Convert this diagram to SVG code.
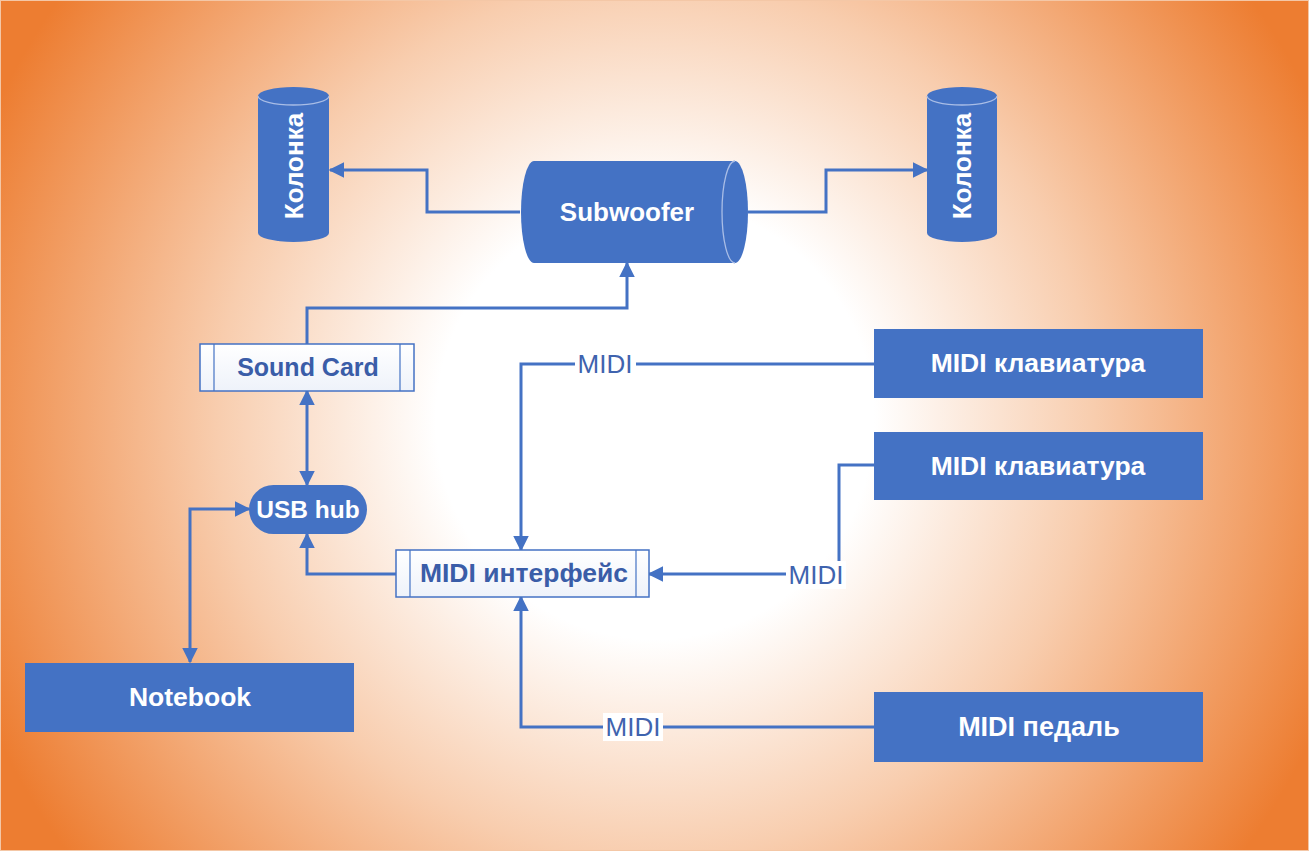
<svg xmlns="http://www.w3.org/2000/svg" width="1309" height="851" viewBox="0 0 1309 851">
  <defs>
    <radialGradient id="bg" gradientUnits="userSpaceOnUse" cx="655" cy="420" r="730">
      <stop offset="0" stop-color="#FFFFFF"/>
      <stop offset="0.3" stop-color="#FFFFFF"/>
      <stop offset="0.6" stop-color="#F8CDAE"/>
      <stop offset="1" stop-color="#ED7D31"/>
    </radialGradient>
    <linearGradient id="lightfill" x1="0" y1="0" x2="0" y2="1">
      <stop offset="0" stop-color="#FFFFFF"/>
      <stop offset="1" stop-color="#EEF2FA"/>
    </linearGradient>
    <marker id="arr" viewBox="0 0 10 10" refX="9" refY="5" markerWidth="5.2" markerHeight="5.2" orient="auto-start-reverse">
      <path d="M0,0 L10,5 L0,10 z" fill="#4472C4"/>
    </marker>
    <style>
      .blue { fill: #4472C4; }
      .wtxt { fill: #FFFFFF; font-family: "Liberation Sans", Arial, sans-serif; font-weight: bold; text-anchor: middle; dominant-baseline: central; }
      .btxt { fill: #3A5DA8; font-family: "Liberation Sans", Arial, sans-serif; font-weight: bold; text-anchor: middle; dominant-baseline: central; }
      .lbl { fill: #3F63AE; font-family: "Liberation Sans", Arial, sans-serif; font-size: 26px; text-anchor: middle; dominant-baseline: central; }
      .pp { fill: url(#lightfill); stroke: #4472C4; stroke-width: 1.5; }
      .ppline { stroke: #4472C4; stroke-width: 1.2; fill: none; }
      .rim { fill: none; stroke: #A9BDE6; stroke-width: 1.3; }
      .conn { fill: none; stroke: #4472C4; stroke-width: 3; }
      .lblbg { fill: #FFFFFF; }
    </style>
  </defs>

  <rect x="0" y="0" width="1309" height="851" fill="url(#bg)"/>
  <rect x="0.5" y="0.5" width="1308" height="850" fill="none" stroke="#F4C7A6" stroke-width="1"/>

  <g id="connectors">
    <path class="conn" d="M520,212 H427 V170 H330" marker-end="url(#arr)"/>
    <path class="conn" d="M748,212 H826 V170 H927" marker-end="url(#arr)"/>
    <path class="conn" d="M307,344 V308 H627 V263" marker-end="url(#arr)"/>
    <path class="conn" d="M307,391 V485" marker-start="url(#arr)" marker-end="url(#arr)"/>
    <path class="conn" d="M249,509 H190 V662" marker-start="url(#arr)" marker-end="url(#arr)"/>
    <path class="conn" d="M396,574 H307 V534" marker-end="url(#arr)"/>
    <path class="conn" d="M874,364 H521 V550" marker-end="url(#arr)"/>
    <path class="conn" d="M874,465 H839 V574 H649" marker-end="url(#arr)"/>
    <path class="conn" d="M874,727 H521 V597" marker-end="url(#arr)"/>
    <g id="labels">
      <rect class="lblbg" x="575" y="350" width="61" height="28"/>
      <text class="lbl" x="605" y="364">MIDI</text>
      <rect class="lblbg" x="786" y="561" width="60" height="28"/>
      <text class="lbl" x="816" y="575">MIDI</text>
      <rect class="lblbg" x="603" y="713" width="60" height="28"/>
      <text class="lbl" x="633" y="727">MIDI</text>
    </g>
  </g>

  <g id="kolonka-left">
    <path class="blue" d="M258,96 A35.5,9 0 0 1 329,96 V233 A35.5,9 0 0 1 258,233 Z"/>
    <path class="rim" d="M258,96 A35.5,9 0 0 0 329,96"/>
    <text class="wtxt" font-size="26" transform="translate(294,166) rotate(-90)" x="0" y="0">Колонка</text>
  </g>

  <g id="kolonka-right">
    <path class="blue" d="M927,96 A35,9 0 0 1 997,96 V233 A35,9 0 0 1 927,233 Z"/>
    <path class="rim" d="M927,96 A35,9 0 0 0 997,96"/>
    <text class="wtxt" font-size="26" transform="translate(962,166) rotate(-90)" x="0" y="0">Колонка</text>
  </g>

  <g id="subwoofer">
    <path class="blue" d="M534,161 H735 A13,51 0 0 1 735,263 H534 A13,51 0 0 1 534,161 Z"/>
    <path class="rim" d="M735,161 A13,51 0 0 0 735,263"/>
    <text class="wtxt" font-size="26" x="627" y="212">Subwoofer</text>
  </g>

  <g id="sound-card">
    <rect class="pp" x="200" y="344" width="214" height="47"/>
    <line class="ppline" x1="214" y1="344" x2="214" y2="391"/>
    <line class="ppline" x1="400" y1="344" x2="400" y2="391"/>
    <text class="btxt" font-size="25" x="308" y="367">Sound Card</text>
  </g>

  <g id="usb-hub">
    <rect class="blue" x="249" y="485" width="118" height="49" rx="24.5" ry="24.5"/>
    <text class="wtxt" font-size="24.5" x="308" y="509">USB hub</text>
  </g>

  <g id="notebook">
    <rect class="blue" x="25" y="663" width="329" height="69"/>
    <text class="wtxt" font-size="26.5" x="190" y="697">Notebook</text>
  </g>

  <g id="midi-interface">
    <rect class="pp" x="396" y="550" width="253" height="47"/>
    <line class="ppline" x1="410" y1="550" x2="410" y2="597"/>
    <line class="ppline" x1="636" y1="550" x2="636" y2="597"/>
    <text class="btxt" font-size="26.5" x="524" y="573">MIDI интерфейс</text>
  </g>

  <g id="midi-keyboard-1">
    <rect class="blue" x="874" y="329" width="329" height="69"/>
    <text class="wtxt" font-size="26.5" x="1038" y="363">MIDI клавиатура</text>
  </g>

  <g id="midi-keyboard-2">
    <rect class="blue" x="874" y="432" width="329" height="68"/>
    <text class="wtxt" font-size="26.5" x="1038" y="466">MIDI клавиатура</text>
  </g>

  <g id="midi-pedal">
    <rect class="blue" x="874" y="692" width="329" height="70"/>
    <text class="wtxt" font-size="27" x="1039" y="727">MIDI педаль</text>
  </g>
</svg>
